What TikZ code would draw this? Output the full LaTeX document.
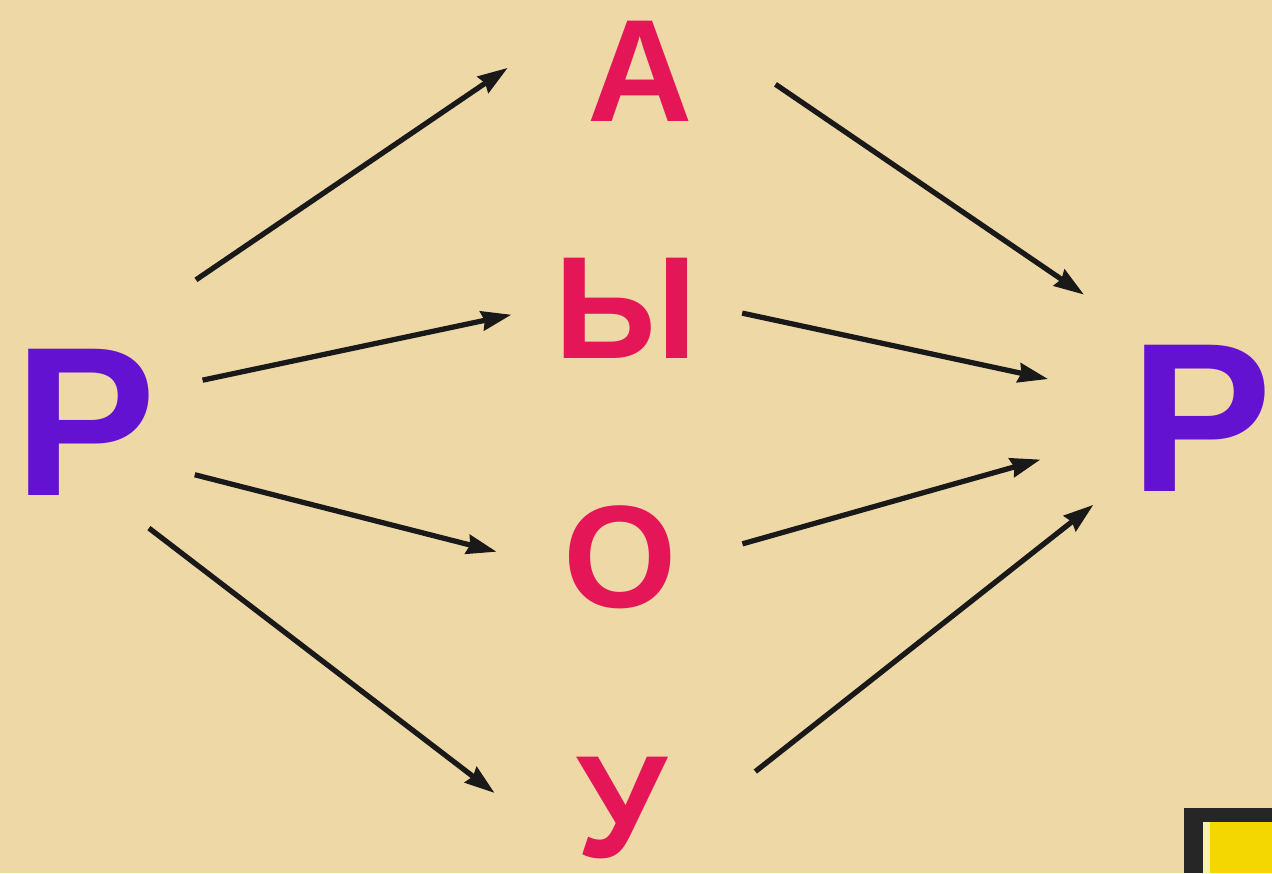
\documentclass[tikz,border=0pt]{standalone}
\usepackage{fontspec}
\setmainfont{Liberation Sans}
\usetikzlibrary{arrows.meta}
\definecolor{paper}{RGB}{238,216,166}
\definecolor{rcol}{RGB}{98,18,208}
\definecolor{vcol}{RGB}{228,22,88}
\definecolor{btn}{RGB}{244,214,0}

\begin{document}
\begin{tikzpicture}[
  outer/.style={circle,inner sep=0pt,minimum size=4.72cm,text=rcol,font=\fontsize{121}{121}\selectfont\bfseries},
  vowel/.style={circle,inner sep=0pt,minimum size=4.4cm,text=vcol,font=\fontsize{83}{83}\selectfont\bfseries},
  arr/.style={-{Stealth[length=17pt,width=11pt,inset=1.5pt]},line width=3pt,black!90}]
\useasboundingbox (0,0) rectangle (25.44,17.46);
\fill[paper] (0,0) rectangle (25.44,17.46);
% the two end letters
\node[outer] (pl) at (1.70,9.02) {Р};
\node[outer] (pr) at (24.02,9.10) {Р};
% vowels in the middle
\node[vowel] (a) at (12.80,16.04) {А};
\node[vowel] (y) at (12.52,11.30) {Ы};
\node[vowel] (o) at (12.40,6.32) {О};
\node[vowel] (u) at (12.44,1.30) {У};
% arrows in
\draw[arr,shorten <=1.34cm,shorten >=0.57cm] (pl.62.4) -- (a.170);
\draw[arr,shorten <=0.13cm,shorten >=0.09cm] (pl.20.2) -- (y.183.2);
\draw[arr,shorten <=0.07cm,shorten >=0.27cm] (pl.334.8) -- (o.179.2);
\draw[arr,shorten <=0.12cm,shorten >=0.43cm] (pl.300.7) -- (u.179.1);
% arrows out
\draw[arr,shorten <=0.61cm,shorten >=1.07cm] (a.2.7) -- (pr.128.8);
\draw[arr,shorten <=0.12cm,shorten >=0.79cm] (y.358.6) -- (pr.165.5);
\draw[arr,shorten <=0.26cm,shorten >=0.95cm] (o.5.5) -- (pr.194.5);
\draw[arr,shorten <=0.62cm,shorten >=0.40cm] (u.9.8) -- (pr.219.3);
% corner button
\fill[black!85] (23.68,0) rectangle (25.44,1.30);
\fill[btn] (24.06,0) rectangle (25.44,1.02);
\fill[btn!35] (24.06,0) rectangle (24.20,1.02);
\end{tikzpicture}
\end{document}
